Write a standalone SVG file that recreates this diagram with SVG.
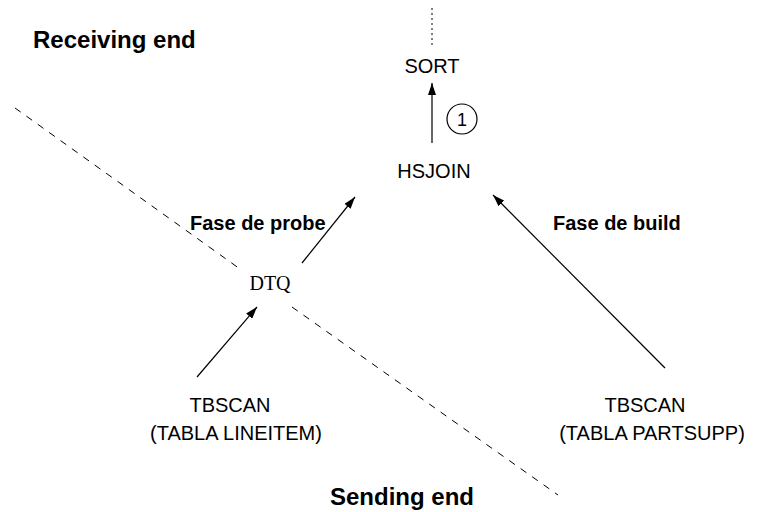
<svg xmlns="http://www.w3.org/2000/svg" width="760" height="512" viewBox="0 0 760 512">
<defs>
<marker id="ah" viewBox="0 0 12 8" refX="12" refY="4" markerWidth="12" markerHeight="8" markerUnits="userSpaceOnUse" orient="auto">
<path d="M0,0 L12,4 L0,8 Z" fill="#000"/>
</marker>
</defs>
<style>
.t{font-family:"Liberation Sans",Arial,sans-serif;font-size:20px;fill:#000;text-anchor:middle}
.s{font-family:"Liberation Serif","Times New Roman",serif;font-size:20px;fill:#000;text-anchor:middle}
.b{font-family:"Liberation Sans",Arial,sans-serif;font-size:20px;font-weight:bold;fill:#000}
.bb{font-family:"Liberation Sans",Arial,sans-serif;font-size:24px;font-weight:bold;fill:#000}
.e{stroke:#000;stroke-width:1.2;fill:none}
.d{stroke:#000;stroke-width:1;fill:none;stroke-dasharray:7,7}
</style>
<rect width="760" height="512" fill="#fff"/>
<text class="bb" x="33" y="48">Receiving end</text>
<text class="bb" x="330" y="505">Sending end</text>
<line class="d" x1="15" y1="108" x2="240" y2="269"/>
<line class="d" x1="292" y1="307" x2="558" y2="495"/>
<g id="connectors">
<line x1="432" y1="8" x2="432" y2="46" stroke="#000" stroke-width="1" stroke-dasharray="2,3"/>
<line class="e" x1="432" y1="143" x2="432" y2="83" marker-end="url(#ah)"/>
<line class="e" x1="302" y1="263" x2="355" y2="197" marker-end="url(#ah)"/>
<line class="e" x1="197" y1="377" x2="257" y2="307" marker-end="url(#ah)"/>
<line class="e" x1="665" y1="368" x2="493" y2="195" marker-end="url(#ah)"/>
<circle cx="462" cy="119" r="15" fill="none" stroke="#000" stroke-width="1.2"/>
<text class="t" x="462" y="126" style="font-size:18px">1</text>
</g>
<g id="sort"><text class="t" x="432" y="73">SORT</text></g>
<g id="hsjoin"><text class="t" x="434" y="178">HSJOIN</text></g>
<g id="dtq"><text class="s" x="270" y="290">DTQ</text></g>
<g id="tbscan-lineitem">
<text class="t" x="230" y="412">TBSCAN</text>
<text class="t" x="236" y="440">(TABLA LINEITEM)</text>
</g>
<g id="tbscan-partsupp">
<text class="t" x="645" y="412">TBSCAN</text>
<text class="t" x="652" y="440">(TABLA PARTSUPP)</text>
</g>
<text class="b" x="190" y="230">Fase de probe</text>
<text class="b" x="553" y="230">Fase de build</text>
</svg>
